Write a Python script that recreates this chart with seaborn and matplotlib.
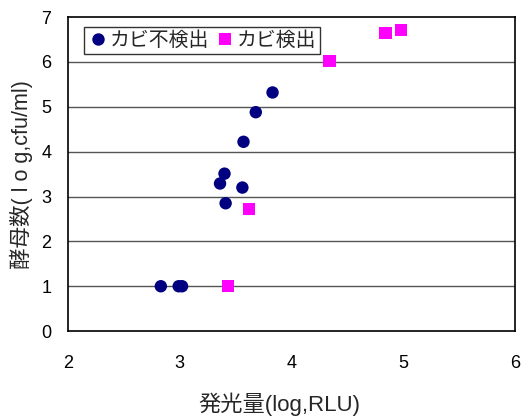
import matplotlib
matplotlib.use("Agg")
import matplotlib.pyplot as plt
import seaborn as sns
import pandas as pd

# 発光量 (log RLU) と 酵母数 (log cfu/ml)
neg_x = [2.83, 2.99, 3.02, 3.41, 3.40, 3.36, 3.56, 3.57, 3.68, 3.83]
neg_y = [1.00, 1.00, 1.00, 2.85, 3.51, 3.29, 3.20, 4.22, 4.88, 5.32]
pos_x = [3.43, 3.62, 4.34, 4.84, 4.98]
pos_y = [1.00, 2.72, 6.02, 6.64, 6.71]
groups = ["カビ不検出", "カビ検出"]
x_ticks = [2, 3, 4, 5, 6]
y_ticks = [0, 1, 2, 3, 4, 5, 6, 7]

df = pd.DataFrame({
    "x": neg_x + pos_x,
    "y": neg_y + pos_y,
    "g": [groups[0]] * len(neg_x) + [groups[1]] * len(pos_x),
})

sns.set_style("white")
mixed = ["Liberation Sans", "Noto Sans CJK JP", "DejaVu Sans"]
plt.rcParams["font.family"] = mixed

fig = plt.figure(figsize=(5.32, 4.17), dpi=100)
ax = fig.add_axes([0.128, 0.206, 0.840, 0.753])

for yv in y_ticks[1:-1]:
    ax.axhline(yv, color="#555555", lw=1.0, zorder=1)

sns.scatterplot(
    data=df, x="x", y="y", hue="g", style="g",
    hue_order=groups, style_order=groups,
    palette={groups[0]: "#000080", groups[1]: "#FF00FF"},
    markers={groups[0]: "o", groups[1]: "s"},
    s=80, linewidth=0, ax=ax, zorder=3, legend=True,
)

ax.set_xlim(2, 6)
ax.set_ylim(0, 7)
ax.set_xticks(x_ticks)
ax.set_yticks(y_ticks)
ax.tick_params(axis="x", direction="in", length=5, width=1, pad=17, labelsize=13, colors="black")
ax.tick_params(axis="y", direction="in", length=5, width=1, pad=12, labelsize=13, colors="black")
for sp in ax.spines.values():
    sp.set_color("black")
    sp.set_linewidth(1.2)

ax.set_xlabel("発光量(log,RLU)", fontsize=16, labelpad=12, family=mixed)
ax.xaxis.set_label_coords(0.473, -0.195)
ax.set_ylabel("酵母数( l o g,cfu/ml)", fontsize=15.5, labelpad=6, family=mixed)

leg = ax.legend(
    loc="upper left", bbox_to_anchor=(0.035, 0.968), ncol=2, frameon=True,
    fancybox=False, shadow=False, borderpad=0.2, handletextpad=0.1,
    columnspacing=0.3, handlelength=1.0, borderaxespad=0,
    prop={"family": mixed, "size": 14.3},
)
leg.get_frame().set_edgecolor("black")
leg.get_frame().set_linewidth(1.0)

fig.savefig("out.png", dpi=100)
